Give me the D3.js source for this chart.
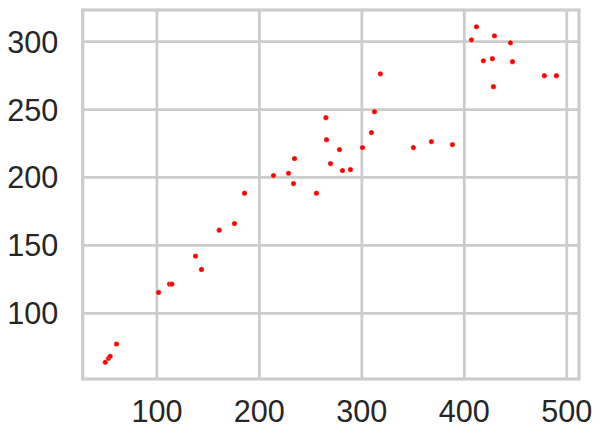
<!DOCTYPE html>
<html><head><meta charset="utf-8">
<script src="https://cdn.jsdelivr.net/npm/d3@7/dist/d3.min.js"></script>
<style>body{margin:0;background:#fff}svg{display:block}</style>
</head><body><svg id="c" width="601" height="440"></svg>
<script>
const xValues = [49.6,52.8,54.4,60.6,101.6,112.3,114.6,137.7,143.5,160.8,175.7,185.5,213.8,228.4,233.3,234.3,255.7,264.9,265.5,269.4,278.2,281.1,288.9,300.6,309.4,312.3,318.1,350.3,367.9,388.4,407.0,411.9,418.6,427.4,428.4,429.4,445.0,447.0,478.1,489.9];
const yValues = [64.0,66.9,68.4,77.4,115.4,121.5,121.5,142.1,132.3,161.2,166.1,188.4,201.4,203.1,195.5,213.9,188.4,244.0,227.8,210.2,220.5,205.1,205.8,222.0,233.0,248.4,276.3,222.0,226.4,224.2,301.3,310.9,285.9,287.4,266.8,304.3,299.1,285.2,274.9,274.9];
const xTicks = [100,200,300,400,500];
const yTicks = [100,150,200,250,300];

const svg = d3.select("#c");
const L = 82.7, R = 579, T = 10, B = 379;
function padded(vals){const e=d3.extent(vals);const m=(e[1]-e[0])*0.05;return [e[0]-m,e[1]+m];}
const x = d3.scaleLinear().domain(padded(xValues)).range([L,R]);
const y = d3.scaleLinear().domain(padded(yValues)).range([B,T]);
const grid = "#cccccc", txt = "#262626", fs = 30.6;

const g = svg.append("g");
g.selectAll("line.gx").data(xTicks).join("line")
  .attr("x1",d=>x(d)).attr("x2",d=>x(d)).attr("y1",T).attr("y2",B)
  .attr("stroke",grid).attr("stroke-width",2.78);
g.selectAll("line.gy").data(yTicks).join("line")
  .attr("y1",d=>y(d)).attr("y2",d=>y(d)).attr("x1",L).attr("x2",R)
  .attr("stroke",grid).attr("stroke-width",2.78);
g.append("rect").attr("x",L).attr("y",T).attr("width",R-L).attr("height",B-T)
  .attr("fill","none").attr("stroke",grid).attr("stroke-width",3.2);

g.selectAll("text.xt").data(xTicks).join("text")
  .attr("x",d=>x(d)).attr("y",B+43.3).attr("text-anchor","middle")
  .attr("font-family","Liberation Sans, Arial, sans-serif").attr("font-size",fs)
  .attr("fill",txt).text(d=>d);
g.selectAll("text.yt").data(yTicks).join("text")
  .attr("x",L-24.5).attr("y",d=>y(d)).attr("dy","0.36em").attr("text-anchor","end")
  .attr("font-family","Liberation Sans, Arial, sans-serif").attr("font-size",fs)
  .attr("fill",txt).text(d=>d);

g.selectAll("circle").data(xValues.map((v,i)=>[v,yValues[i]])).join("circle")
  .attr("cx",d=>x(d[0])).attr("cy",d=>y(d[1])).attr("r",2.6)
  .attr("fill","#ff0000").attr("stroke","#fff").attr("stroke-width",0.3);
</script></body></html>
